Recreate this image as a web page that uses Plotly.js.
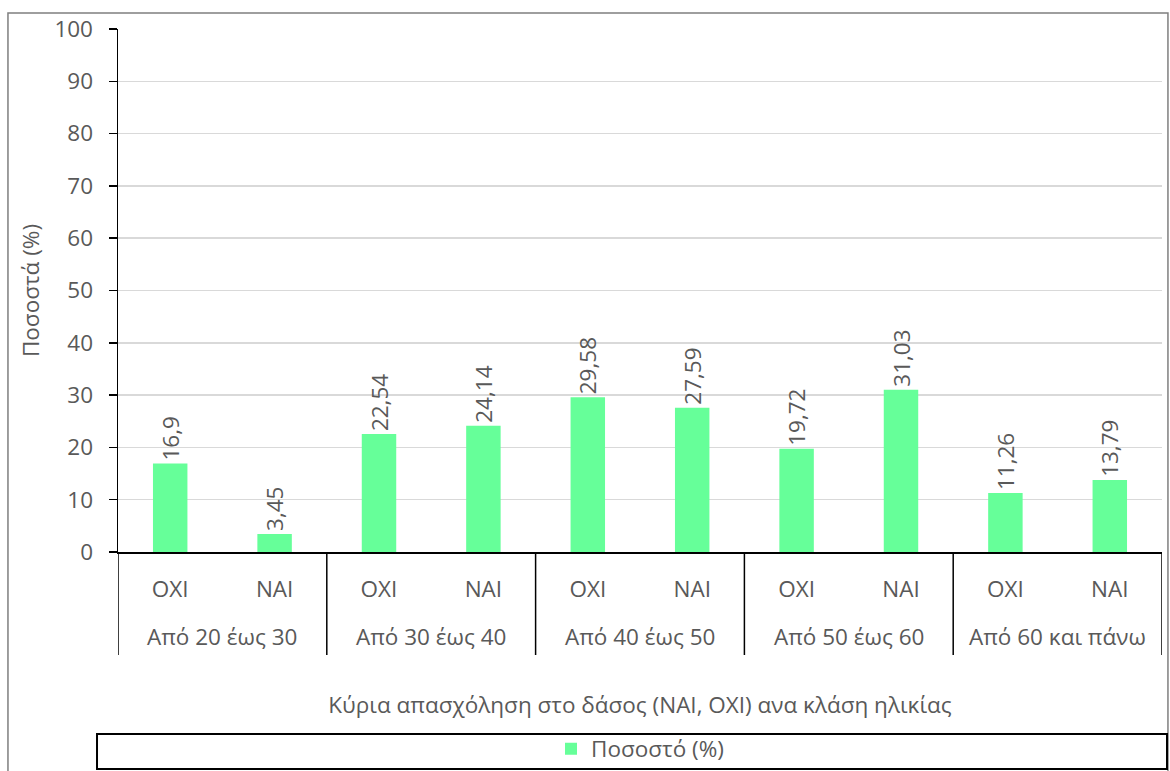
<!DOCTYPE html>
<html>
<head>
<meta charset="utf-8">
<script src="https://cdn.plot.ly/plotly-3.0.1.min.js"></script>
<style>html,body{margin:0;padding:0;background:#fff;}#chart{width:1170px;height:771px;}</style>
</head>
<body>
<div id="chart"></div>
<script>
const groupLabels = ["Από 20 έως 30", "Από 30 έως 40", "Από 40 έως 50", "Από 50 έως 60", "Από 60 και πάνω"];
const subLabels = ["ΟΧΙ", "ΝΑΙ"];
const values = [16.9, 3.45, 22.54, 24.14, 29.58, 27.59, 19.72, 31.03, 11.26, 13.79];
const seriesName = "Ποσοστό (%)";
const yTitle = "Ποσοστά (%)";
const xTitle = "Κύρια απασχόληση στο δάσος (ΝΑΙ, ΟΧΙ) ανα κλάση ηλικίας";

const idx = values.map((v, i) => i);
const ticktext = idx.map(i => subLabels[i % subLabels.length]);
const labels = values.map(v => String(v).replace('.', ','));

const FONT = "'Open Sans', 'Noto Sans', sans-serif";
const GRAY = "#595959";
const FS = 22.5;

const trace = {
  type: 'bar',
  x: idx,
  y: values,
  name: seriesName,
  marker: {color: '#66FF99'},
  width: 0.33,
  text: labels,
  textposition: 'outside',
  textangle: -90,
  constraintext: 'none',
  textfont: {family: FONT, size: FS, color: GRAY},
  cliponaxis: false,
  hoverinfo: 'x+y'
};

const annotations = groupLabels.map((g, k) => ({
  text: g, xref: 'x', yref: 'paper', x: 2 * k + 0.5, y: -0.1625,
  xanchor: 'center', yanchor: 'middle', showarrow: false,
  font: {family: FONT, size: FS, color: GRAY}
}));

const shapes = [];
for (let k = 0; k <= groupLabels.length; k++) {
  shapes.push({type: 'line', xref: 'x', yref: 'paper', x0: 2 * k - 0.5, x1: 2 * k - 0.5,
    y0: 0, y1: -0.197, line: {color: '#000', width: 1.5}});
}
// outer chart border
shapes.push({type: 'rect', xref: 'paper', yref: 'paper', x0: -0.1054, x1: 1.0057, y0: 1.0306, y1: -0.6,
  line: {color: '#7f7f7f', width: 1.5}, layer: 'below'});
// legend box
shapes.push({type: 'rect', xref: 'paper', yref: 'paper', x0: -0.0201, x1: 1.0048, y0: -0.348, y1: -0.415,
  line: {color: '#000', width: 2}});

const layout = {
  width: 1170, height: 771,
  margin: {l: 118, r: 8, t: 29, b: 219, autoexpand: false},
  paper_bgcolor: '#fff', plot_bgcolor: '#fff',
  font: {family: FONT, size: FS, color: GRAY},
  xaxis: {
    type: 'linear', range: [-0.5, 9.5], tickmode: 'array', tickvals: idx, ticktext: ticktext,
    ticks: '', showgrid: false, zeroline: false, showline: true, linecolor: '#000', linewidth: 1.5,
    tickfont: {family: FONT, size: FS, color: GRAY}, ticklabelstandoff: 16, fixedrange: true,
    automargin: false,
    title: {text: xTitle, font: {family: FONT, size: FS, color: GRAY}, standoff: 94}
  },
  yaxis: {
    range: [0, 100], dtick: 10, tick0: 0, ticks: 'outside', ticklen: 8, tickcolor: '#000', tickwidth: 1.5,
    showline: true, linecolor: '#000', linewidth: 1.5, showgrid: true, gridcolor: '#d9d9d9', gridwidth: 1.5,
    zeroline: false, tickfont: {family: FONT, size: FS, color: GRAY}, automargin: false,
    ticklabelstandoff: 11,
    title: {text: yTitle, font: {family: FONT, size: FS, color: GRAY}, standoff: 8}
  },
  showlegend: true,
  legend: {orientation: 'h', x: 0.5, xanchor: 'center', yref: 'container', y: 0.0285, yanchor: 'middle',
    font: {family: FONT, size: FS, color: GRAY}, bgcolor: 'rgba(0,0,0,0)'},
  annotations: annotations,
  shapes: shapes
};

Plotly.newPlot('chart', [trace], layout, {displayModeBar: false, staticPlot: true});
</script>
</body>
</html>
